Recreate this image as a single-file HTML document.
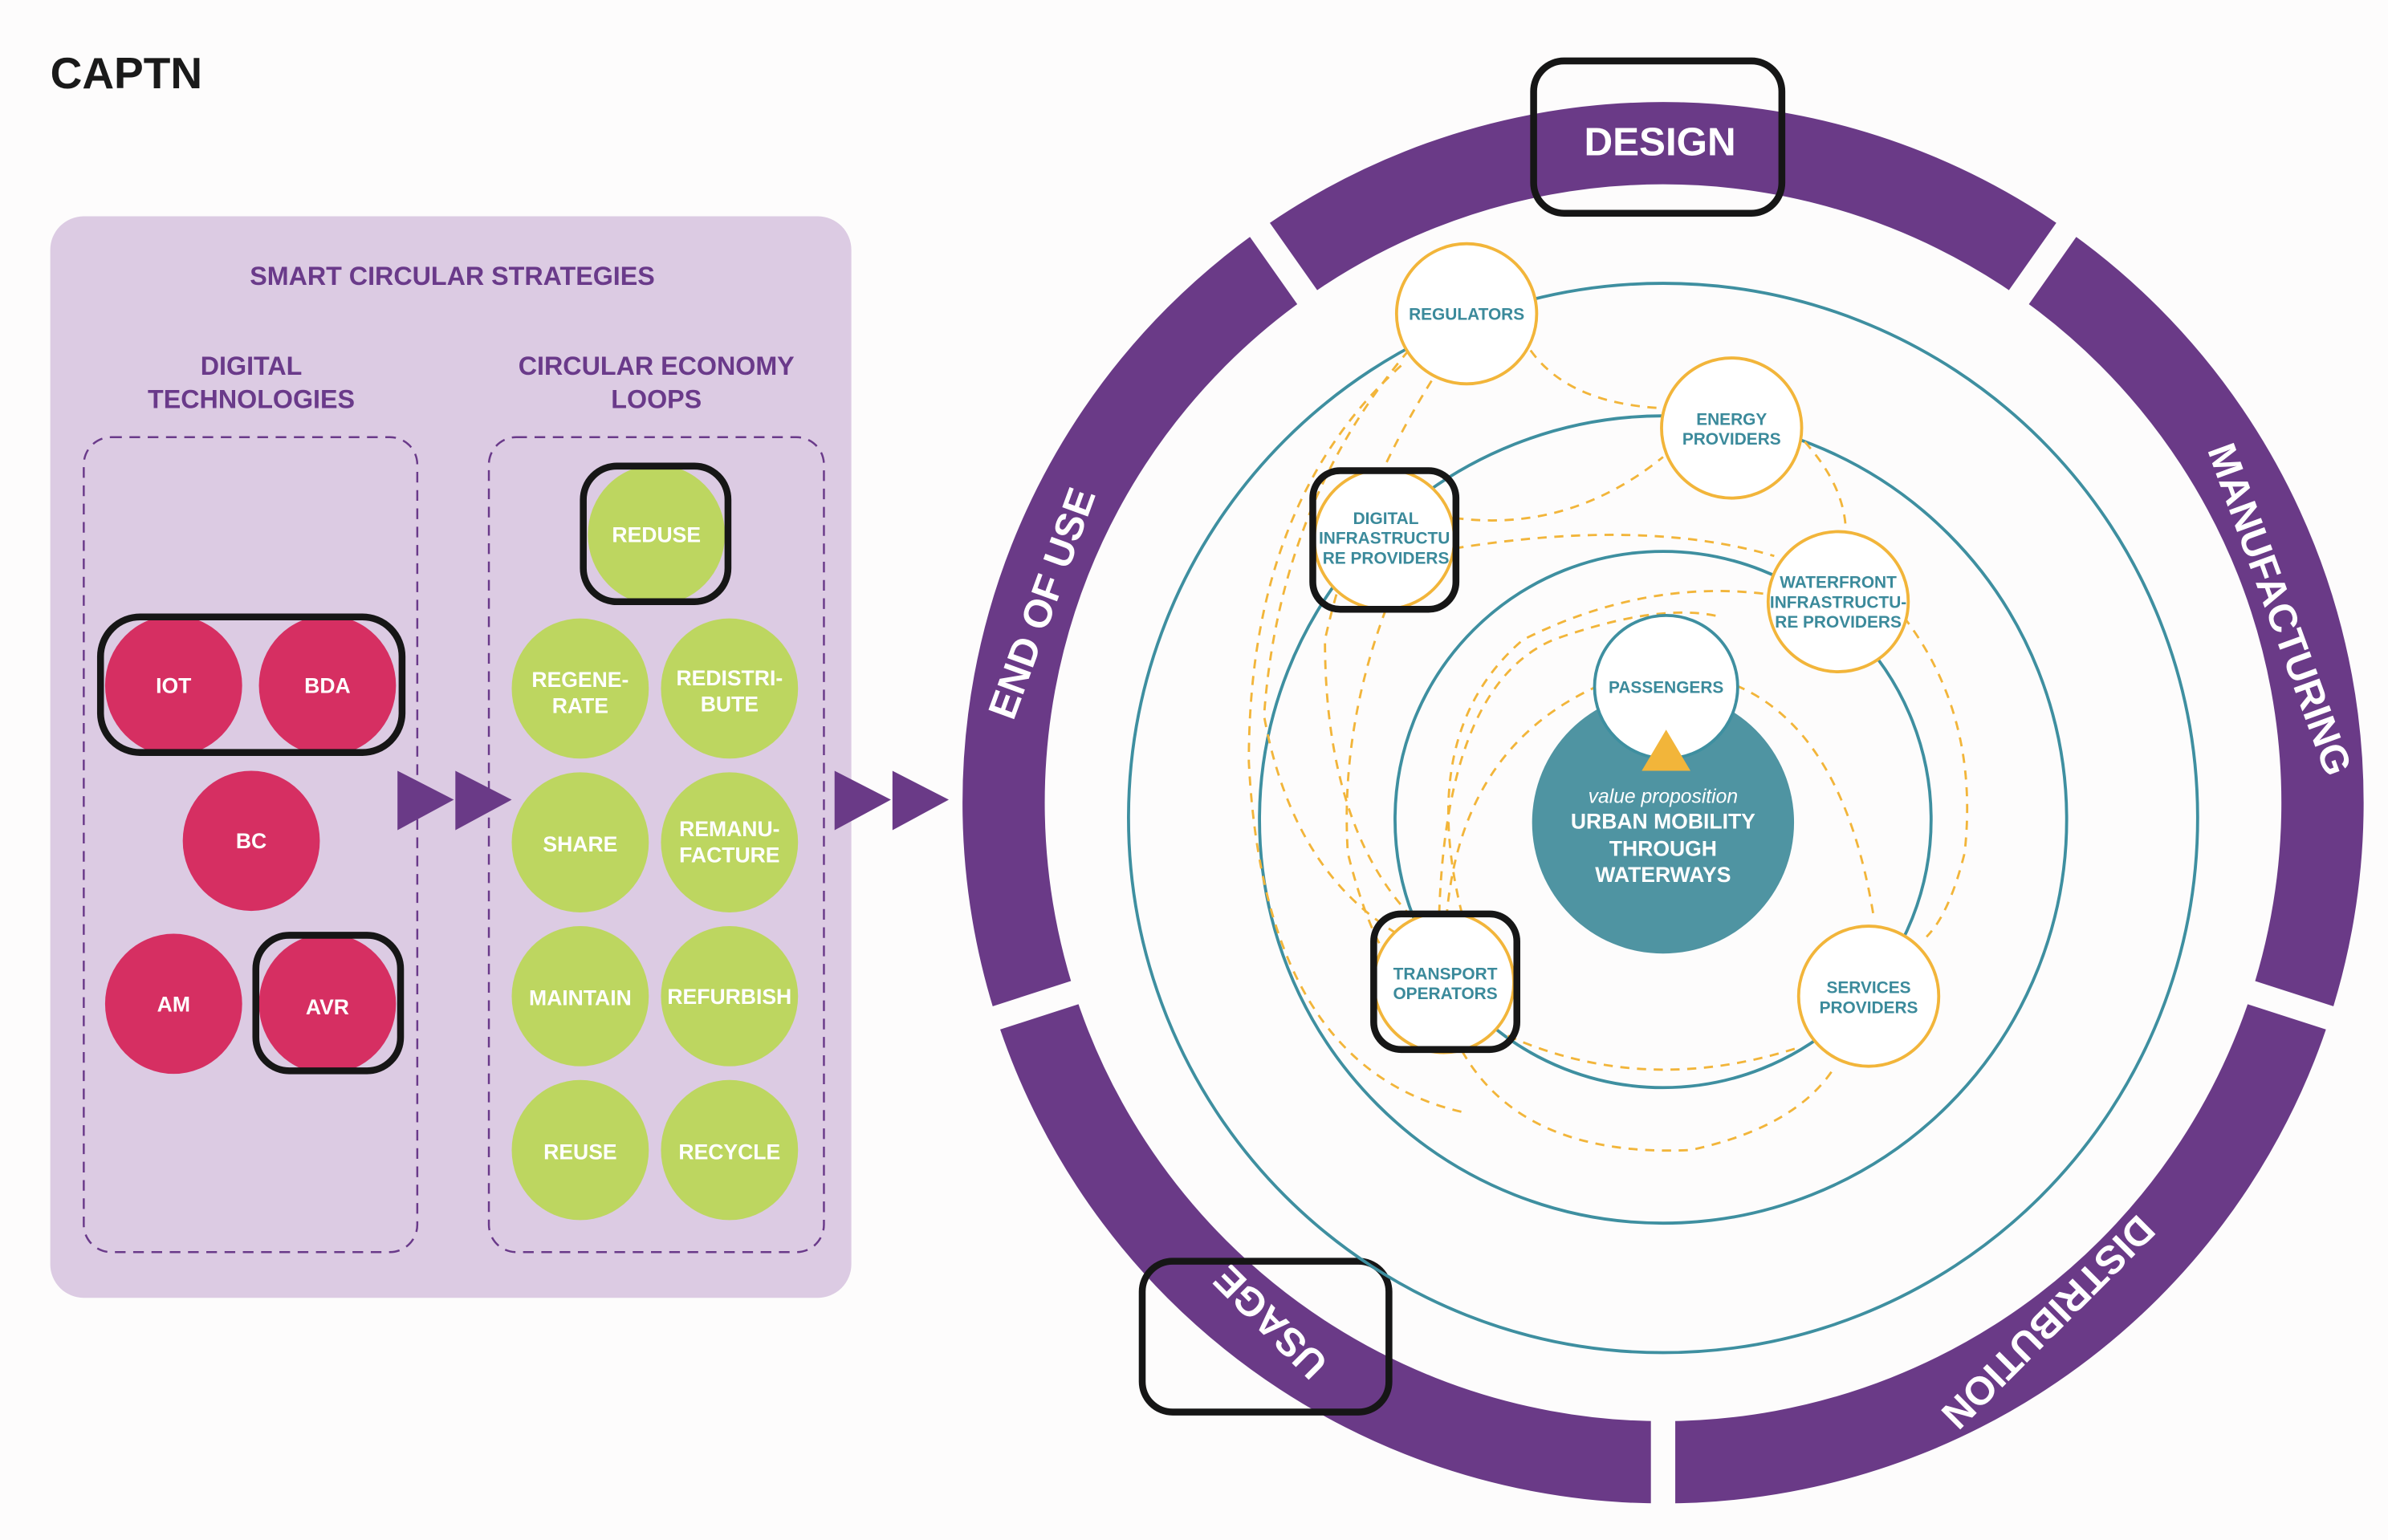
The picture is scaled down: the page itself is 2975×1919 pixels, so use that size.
<!DOCTYPE html>
<html><head><meta charset="utf-8"><style>html,body{margin:0;padding:0;background:#fdfcfc}svg{display:block}</style></head>
<body>
<svg xmlns="http://www.w3.org/2000/svg" width="2975" height="1919" viewBox="0 0 1568 1011" preserveAspectRatio="none" font-family="Liberation Sans, sans-serif">
<rect width="1568" height="1011" fill="#fdfcfc"/>
<text x="33" y="58" font-size="29" font-weight="bold" fill="#1a1a1a">CAPTN</text>

<!-- left panel -->
<rect x="33" y="142" width="526" height="710" rx="22" fill="#dccbe3"/>
<g fill="#6a3a8a" font-weight="bold" text-anchor="middle" font-size="17">
<text x="297" y="187">SMART CIRCULAR STRATEGIES</text>
<text x="165" y="246">DIGITAL</text><text x="165" y="268">TECHNOLOGIES</text>
<text x="431" y="246">CIRCULAR ECONOMY</text><text x="431" y="268">LOOPS</text>
</g>
<g fill="none" stroke="#6a3a8a" stroke-width="1.3" stroke-dasharray="7,5">
<rect x="55" y="287" width="219" height="535" rx="18"/>
<rect x="321" y="287" width="220" height="535" rx="18"/>
</g>
<g fill="#d62f62">
<ellipse cx="114" cy="450" rx="45" ry="46"/><ellipse cx="215" cy="450" rx="45" ry="46"/>
<ellipse cx="165" cy="552" rx="45" ry="46"/><ellipse cx="114" cy="659" rx="45" ry="46"/><ellipse cx="215" cy="659" rx="45" ry="46"/>
</g>
<g fill="#bdd660">
<ellipse cx="431" cy="351" rx="45" ry="46"/>
<ellipse cx="381" cy="452" rx="45" ry="46"/><ellipse cx="479" cy="452" rx="45" ry="46"/>
<ellipse cx="381" cy="553" rx="45" ry="46"/><ellipse cx="479" cy="553" rx="45" ry="46"/>
<ellipse cx="381" cy="654" rx="45" ry="46"/><ellipse cx="479" cy="654" rx="45" ry="46"/>
<ellipse cx="381" cy="755" rx="45" ry="46"/><ellipse cx="479" cy="755" rx="45" ry="46"/>
</g>
<g fill="#fff" font-weight="bold" text-anchor="middle" font-size="14">
<text x="114" y="455">IOT</text><text x="215" y="455">BDA</text><text x="165" y="557">BC</text>
<text x="114" y="664">AM</text><text x="215" y="666">AVR</text>
<text x="431" y="356">REDUSE</text>
<text x="381" y="451">REGENE-</text><text x="381" y="468">RATE</text>
<text x="479" y="450">REDISTRI-</text><text x="479" y="467">BUTE</text>
<text x="381" y="559">SHARE</text>
<text x="479" y="549">REMANU-</text><text x="479" y="566">FACTURE</text>
<text x="381" y="660">MAINTAIN</text><text x="479" y="659">REFURBISH</text>
<text x="381" y="761">REUSE</text><text x="479" y="761">RECYCLE</text>
</g>
<g fill="none" stroke="#161616" stroke-width="4.5">
<rect x="66" y="405" width="198" height="89" rx="26"/>
<rect x="168" y="614" width="95" height="89" rx="22"/>
<rect x="383" y="306" width="95" height="89" rx="22"/>
</g>
<g fill="#6a3a87">
<polygon points="261,506 298,525 261,545"/><polygon points="299,506 336,525 299,545"/>
<polygon points="548,506 585,525 548,545"/><polygon points="586,506 623,525 586,545"/>
</g>

<!-- outer ring -->
<circle cx="1092" cy="527" r="433" fill="none" stroke="#6a3a87" stroke-width="54"/>
<g stroke="#fdfcfc" stroke-width="16">
<line x1="1092" y1="527" x2="1375" y2="125"/>
<line x1="1092" y1="527" x2="809" y2="125"/>
<line x1="1092" y1="527" x2="1560" y2="678"/>
<line x1="1092" y1="527" x2="624" y2="678"/>
<line x1="1092" y1="527" x2="1092" y2="1011"/>
</g>
<g fill="#fff" font-weight="bold" font-size="26" text-anchor="middle">
<text x="1090" y="102">DESIGN</text>
<text transform="translate(1497,400) rotate(70)" y="9">MANUFACTURING</text>
<text transform="translate(684,396) rotate(-70)" y="9">END OF USE</text>
<text transform="translate(1345,868) rotate(135)" y="9">DISTRIBUTION</text>
<text transform="translate(834,868) rotate(-135)" y="9">USAGE</text>
</g>
<g fill="none" stroke="#161616" stroke-width="4.5">
<rect x="1007" y="40" width="163" height="100" rx="20"/>
<rect x="750" y="828" width="162" height="99" rx="20"/>
</g>

<!-- teal circles -->
<g fill="none" stroke="#3e8fa0" stroke-width="2">
<circle cx="1092" cy="537" r="351"/>
<circle cx="1092" cy="538" r="265"/>
<circle cx="1092" cy="538" r="176"/>
</g>
<!-- dashed connections -->
<g fill="none" stroke="#f2b53a" stroke-width="1.5" stroke-dasharray="6,5">
<path d="M1005,230 Q1030,265 1092,268"/>
<path d="M925,230 Q840,330 830,470 Q850,580 930,620"/>
<path d="M940,250 Q890,330 870,420 Q870,550 935,610"/>
<path d="M955,340 Q1030,350 1092,300"/>
<path d="M955,360 Q1080,340 1165,365"/>
<path d="M1185,290 Q1212,320 1212,350"/>
<path d="M910,400 Q880,480 885,560 Q900,620 920,640"/>
<path d="M920,240 Q820,330 820,500 Q830,700 960,730"/>
<path d="M960,600 Q930,480 1000,420 Q1080,380 1160,390"/>
<path d="M945,600 Q950,450 1020,420 Q1090,395 1130,405"/>
<path d="M1140,450 Q1210,480 1230,600"/>
<path d="M1050,450 Q960,490 950,600"/>
<path d="M1250,405 Q1300,470 1290,560 Q1280,600 1265,615"/>
<path d="M990,680 Q1080,720 1180,688"/>
<path d="M960,690 Q1000,760 1110,755 Q1180,740 1205,700"/>
</g>
<!-- center -->
<circle cx="1092" cy="540" r="86" fill="#4f94a2"/>
<circle cx="1094" cy="451" r="47" fill="#fff" stroke="#3e8fa0" stroke-width="2"/>
<polygon points="1094,479 1078,506 1110,506" fill="#f2b53a"/>
<g fill="#fff" text-anchor="middle">
<text x="1092" y="527" font-size="13" font-style="italic">value proposition</text>
<text x="1092" y="544" font-size="14" font-weight="bold">URBAN MOBILITY</text>
<text x="1092" y="562" font-size="14" font-weight="bold">THROUGH</text>
<text x="1092" y="579" font-size="14" font-weight="bold">WATERWAYS</text>
</g>
<!-- stakeholder nodes -->
<g fill="#fff" stroke="#f2b53a" stroke-width="2">
<circle cx="963" cy="206" r="46"/><circle cx="1137" cy="281" r="46"/>
<circle cx="909" cy="354" r="46"/><circle cx="1207" cy="395" r="46"/>
<circle cx="948" cy="645" r="46"/><circle cx="1227" cy="654" r="46"/>
</g>
<g fill="#3b8a9b" font-weight="bold" font-size="11" text-anchor="middle">
<text x="1094" y="455">PASSENGERS</text>
<text x="963" y="210">REGULATORS</text>
<text x="1137" y="279">ENERGY</text><text x="1137" y="292">PROVIDERS</text>
<text x="910" y="344">DIGITAL</text><text x="909" y="357">INFRASTRUCTU</text><text x="910" y="370">RE PROVIDERS</text>
<text x="1207" y="386">WATERFRONT</text><text x="1207" y="399">INFRASTRUCTU-</text><text x="1207" y="412">RE PROVIDERS</text>
<text x="949" y="643">TRANSPORT</text><text x="949" y="656">OPERATORS</text>
<text x="1227" y="652">SERVICES</text><text x="1227" y="665">PROVIDERS</text>
</g>
<g fill="none" stroke="#161616" stroke-width="4.5">
<rect x="862" y="309" width="94" height="91" rx="18"/>
<rect x="902" y="600" width="94" height="89" rx="18"/>
</g>
</svg>
</body></html>
